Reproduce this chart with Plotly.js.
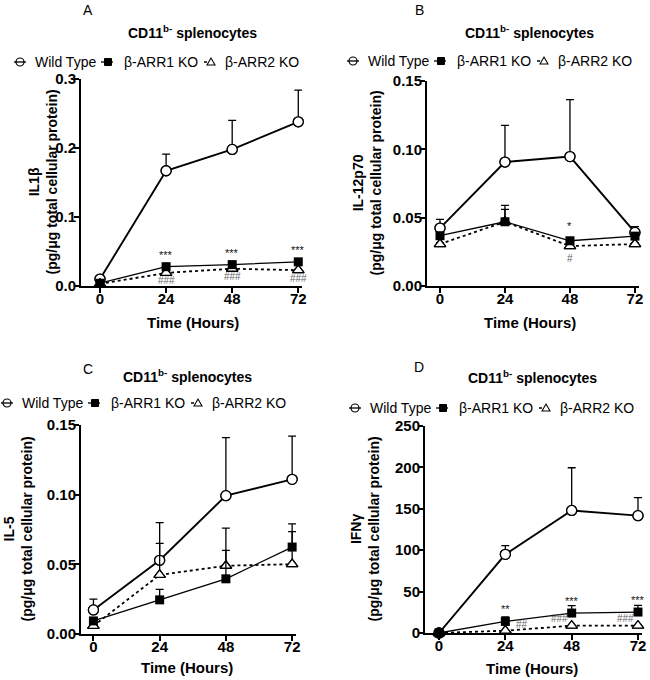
<!DOCTYPE html>
<html>
<head>
<meta charset="utf-8">
<script src="https://cdn.plot.ly/plotly-3.0.1.min.js"></script>
<style>html,body{margin:0;padding:0;background:#fff;}#chart{width:650px;height:680px;}</style>
</head>
<body>
<div id="chart"></div>
<script>
// ---------- DATA ----------
const hours = [0, 24, 48, 72];
const seriesNames = ['Wild Type', 'β-ARR1 KO', 'β-ARR2 KO'];
const panelLetters = ['A', 'B', 'C', 'D'];
const cytokines = ['IL1β', 'IL-12p70', 'IL-5', 'IFNγ'];

// Panel A: IL1β
const A_wt = [0.010, 0.167, 0.198, 0.238];
const A_wt_err = [0.002, 0.024, 0.042, 0.046];
const A_arr1 = [0.004, 0.028, 0.031, 0.035];
const A_arr1_err = [0.001, 0.002, 0.002, 0.002];
const A_arr2 = [0.003, 0.019, 0.025, 0.023];
const A_arr2_err = [0.001, 0.001, 0.001, 0.001];
const A_stars = ['', '***', '***', '***'];
const A_hash = ['', '###', '###', '###'];

// Panel B: IL-12p70
const B_wt = [0.0424, 0.0907, 0.0947, 0.0392];
const B_wt_err = [0.0063, 0.0268, 0.0416, 0.0042];
const B_arr1 = [0.0368, 0.0470, 0.0331, 0.0365];
const B_arr1_err = [0.0015, 0.0120, 0.0015, 0.0015];
const B_arr2 = [0.0307, 0.0470, 0.0292, 0.0307];
const B_arr2_err = [0.001, 0.009, 0.001, 0.001];
const B_stars = ['', '', '*', ''];
const B_hash = ['', '', '#', ''];

// Panel C: IL-5
const C_wt = [0.0173, 0.0529, 0.0993, 0.1110];
const C_wt_err = [0.0077, 0.0271, 0.0417, 0.0310];
const C_arr1 = [0.0094, 0.0245, 0.0396, 0.0624];
const C_arr1_err = [0.001, 0.0075, 0.0204, 0.0166];
const C_arr2 = [0.0058, 0.0424, 0.0490, 0.0501];
const C_arr2_err = [0.001, 0.0226, 0.0270, 0.0234];
const C_stars = ['', '', '', ''];
const C_hash = ['', '', '', ''];

// Panel D: IFNγ
const D_wt = [0, 95, 148, 141.7];
const D_wt_err = [0, 10.6, 51.6, 21.7];
const D_arr1 = [0, 14, 24.1, 25.3];
const D_arr1_err = [0, 5.3, 8.9, 8.0];
const D_arr2 = [0, 2.8, 8.8, 8.8];
const D_arr2_err = [0, 0, 0, 0];
const D_stars = ['', '**', '***', '***'];
const D_hash = ['', '##', '###', '###'];

// ---------- LAYOUT HELPERS ----------
const FONT = 'Liberation Sans, Arial, Helvetica, sans-serif';
const W = 650, H = 680;
const px = v => v / W;
const py = v => 1 - v / H;

const panels = [
  {wt: A_wt, wtE: A_wt_err, a1: A_arr1, a1E: A_arr1_err, a2: A_arr2, a2E: A_arr2_err, stars: A_stars, hash: A_hash,
   xd: [81, 302], yd: [286, 79], xr: [-6.9, 73.35], yr: [0, 0.3], dtick: 0.1, fmt: '.1f',
   letter: [88, 10], title: [193, 32], legend: [20, 62], xt: [193, 322], yt: 43, mode: 'A'},
  {wt: B_wt, wtE: B_wt_err, a1: B_arr1, a1E: B_arr1_err, a2: B_arr2, a2E: B_arr2_err, stars: B_stars, hash: B_hash,
   xd: [427, 639], yd: [286, 81], xr: [-4.8, 73.5], yr: [0, 0.15], dtick: 0.05, fmt: '.2f',
   letter: [419, 10], title: [529, 32], legend: [353, 61], xt: [530, 322], yt: 367, mode: 'B'},
  {wt: C_wt, wtE: C_wt_err, a1: C_arr1, a1E: C_arr1_err, a2: C_arr2, a2E: C_arr2_err, stars: C_stars, hash: C_hash,
   xd: [81, 296], yd: [634, 425], xr: [-4.5, 73.4], yr: [0, 0.15], dtick: 0.05, fmt: '.2f',
   letter: [88, 369], title: [187, 376], legend: [7, 403], xt: [187, 667], yt: 17, mode: 'C'},
  {wt: D_wt, wtE: D_wt_err, a1: D_arr1, a1E: D_arr1_err, a2: D_arr2, a2E: D_arr2_err, stars: D_stars, hash: D_hash,
   xd: [425, 642], yd: [633, 426], xr: [-5.07, 73.45], yr: [0, 250], dtick: 50, fmt: 'd',
   letter: [419, 367], title: [532, 377], legend: [355, 408], xt: [532, 668], yt: 364, mode: 'D'}
];

// legend key offsets (symbol centre / text start) relative to first symbol
const legSym = [0, 88, 191];
const legTxt = [13, 102, 203];

const traces = [];
const shapes = [];
const annotations = [];
const layout = {
  width: W, height: H,
  margin: {l: 0, r: 0, t: 0, b: 0},
  paper_bgcolor: '#fff', plot_bgcolor: 'rgba(0,0,0,0)',
  font: {family: FONT, color: '#000'},
  showlegend: false,
  shapes: shapes,
  annotations: annotations
};

function pixShape(cx, cy, extra) {
  return Object.assign({xref: 'paper', yref: 'paper', xsizemode: 'pixel', ysizemode: 'pixel',
    xanchor: px(cx), yanchor: py(cy), layer: 'above'}, extra);
}

panels.forEach((p, i) => {
  const n = i === 0 ? '' : String(i + 1);
  const xa = 'x' + n, ya = 'y' + n;
  const errOpt = (arr) => ({type: 'data', symmetric: false, array: arr, arrayminus: arr.map(() => 0),
    color: '#000', thickness: 1.3, width: 4, visible: true});

  // WT
  traces.push({x: hours, y: p.wt, xaxis: xa, yaxis: ya, name: seriesNames[0],
    mode: 'lines+markers', line: {color: '#000', width: 1.9},
    marker: {symbol: 'circle-open', size: 10, color: '#000', line: {width: 1.3, color: '#000'}},
    error_y: errOpt(p.wtE), cliponaxis: false});
  traces.push({x: hours, y: p.wt, xaxis: xa, yaxis: ya, hoverinfo: 'skip',
    mode: 'markers', marker: {symbol: 'circle', size: 10, color: '#fff', line: {width: 1.3, color: '#000'}},
    cliponaxis: false});
  // ARR2
  traces.push({x: hours, y: p.a2, xaxis: xa, yaxis: ya, name: seriesNames[2],
    mode: 'lines+markers', line: {color: '#000', width: 1.8, dash: 'dot'},
    marker: {symbol: 'triangle-up-open', size: 10, color: '#000', line: {width: 1.3, color: '#000'}},
    error_y: errOpt(p.a2E), cliponaxis: false});
  traces.push({x: hours, y: p.a2, xaxis: xa, yaxis: ya, hoverinfo: 'skip',
    mode: 'markers', marker: {symbol: 'triangle-up', size: 10, color: '#fff', line: {width: 1.3, color: '#000'}},
    cliponaxis: false});
  // ARR1
  traces.push({x: hours, y: p.a1, xaxis: xa, yaxis: ya, name: seriesNames[1],
    mode: 'lines+markers', line: {color: '#000', width: 1.3},
    marker: {symbol: 'square', size: 9, color: '#000'},
    error_y: errOpt(p.a1E), cliponaxis: false});

  layout['xaxis' + n] = {
    domain: [px(p.xd[0]), px(p.xd[1])], range: p.xr, anchor: ya,
    tickvals: hours, ticktext: hours.map(String), ticks: 'outside', ticklen: 5, tickwidth: 2, tickcolor: '#000',
    ticklabelstandoff: -7,
    showline: true, linewidth: 2, linecolor: '#000', showgrid: false, zeroline: false,
    tickfont: {family: FONT, size: 15, color: '#000', weight: 'bold'}, fixedrange: true
  };
  layout['yaxis' + n] = {
    domain: [py(p.yd[0]), py(p.yd[1])], range: p.yr, anchor: xa,
    dtick: p.dtick, tick0: 0, tickformat: p.fmt, ticks: 'outside', ticklen: 5, tickwidth: 2, tickcolor: '#000',
    ticklabelstandoff: -5,
    showline: true, linewidth: 2, linecolor: '#000', showgrid: false, zeroline: false,
    tickfont: {family: FONT, size: 15, color: '#000', weight: 'bold'}, fixedrange: true
  };

  // custom legend keys
  const lx = p.legend[0], ly = p.legend[1];
  shapes.push(pixShape(lx + legSym[0], ly, {type: 'line', x0: -6, x1: 6, y0: 0, y1: 0, line: {color: '#000', width: 1.3}}));
  shapes.push(pixShape(lx + legSym[0], ly, {type: 'circle', x0: -4, x1: 4, y0: -4, y1: 4,
    fillcolor: 'rgba(0,0,0,0)', line: {color: '#000', width: 1.2}}));
  shapes.push(pixShape(lx + legSym[1], ly, {type: 'line', x0: -7, x1: 5, y0: 0, y1: 0, line: {color: '#000', width: 1.3}}));
  shapes.push(pixShape(lx + legSym[1], ly, {type: 'rect', x0: -3.5, x1: 3.5, y0: -3.5, y1: 3.5,
    fillcolor: '#000', line: {color: '#000', width: 1}}));
  shapes.push(pixShape(lx + legSym[2], ly, {type: 'line', x0: -7, x1: 0, y0: 0, y1: 0, line: {color: '#000', width: 1.3, dash: 'dot'}}));
  shapes.push(pixShape(lx + legSym[2], ly, {type: 'path', path: 'M-4,-3 L4,-3 L0,4 Z',
    fillcolor: '#fff', line: {color: '#000', width: 1.1}}));
  seriesNames.forEach((nm, k) => {
    annotations.push({xref: 'paper', yref: 'paper', x: px(lx + legTxt[k]), y: py(ly), text: nm,
      showarrow: false, xanchor: 'left', yanchor: 'middle', font: {family: FONT, size: 14, color: '#000'}});
  });

  annotations.push({xref: 'paper', yref: 'paper', x: px(p.letter[0]), y: py(p.letter[1]),
    text: panelLetters[i], showarrow: false, xanchor: 'center', yanchor: 'middle',
    font: {family: FONT, size: 14, color: '#000'}});
  annotations.push({xref: 'paper', yref: 'paper', x: px(p.title[0]), y: py(p.title[1]),
    text: '<b>CD11<sup>b-</sup> splenocytes</b>', showarrow: false, xanchor: 'center', yanchor: 'middle',
    font: {family: FONT, size: 14, color: '#000'}});
  annotations.push({xref: 'paper', yref: 'paper', x: px(p.xt[0]), y: py(p.xt[1]),
    text: '<b>Time (Hours)</b>', showarrow: false, xanchor: 'center', yanchor: 'middle',
    font: {family: FONT, size: 15, color: '#000'}});
  const yMid = (p.yd[0] + p.yd[1]) / 2;
  annotations.push({xref: 'paper', yref: 'paper', x: px(p.yt), y: py(yMid),
    text: '<b>' + cytokines[i] + '<br>(pg/μg total cellular protein)</b>', showarrow: false,
    textangle: -90, xanchor: 'center', yanchor: 'middle',
    font: {family: FONT, size: 14, color: '#000'}});

  hours.forEach((h, k) => {
    if (p.stars[k]) {
      annotations.push({xref: xa, yref: ya, x: h, y: p.a1[k], text: p.stars[k], showarrow: false,
        yanchor: 'middle', yshift: p.mode === 'B' ? 15 : 12,
        font: {family: FONT, size: 11, color: '#111'}});
    }
    if (p.hash[k]) {
      const ann = {xref: xa, yref: ya, x: h, y: p.a2[k], text: p.hash[k], showarrow: false,
        yanchor: 'middle', font: {family: FONT, size: 10, color: '#666'}};
      if (p.mode === 'A') { ann.yshift = -8; }
      else if (p.mode === 'B') { ann.yshift = -12; }
      else if (p.mode === 'D') {
        if (k === 1) { ann.xanchor = 'left'; ann.xshift = 9; ann.yshift = 6; }
        else { ann.xanchor = 'right'; ann.xshift = -2; ann.yshift = 7; }
      }
      annotations.push(ann);
    }
  });
});

Plotly.newPlot('chart', traces, layout, {staticPlot: true, displayModeBar: false});
</script>
</body>
</html>
